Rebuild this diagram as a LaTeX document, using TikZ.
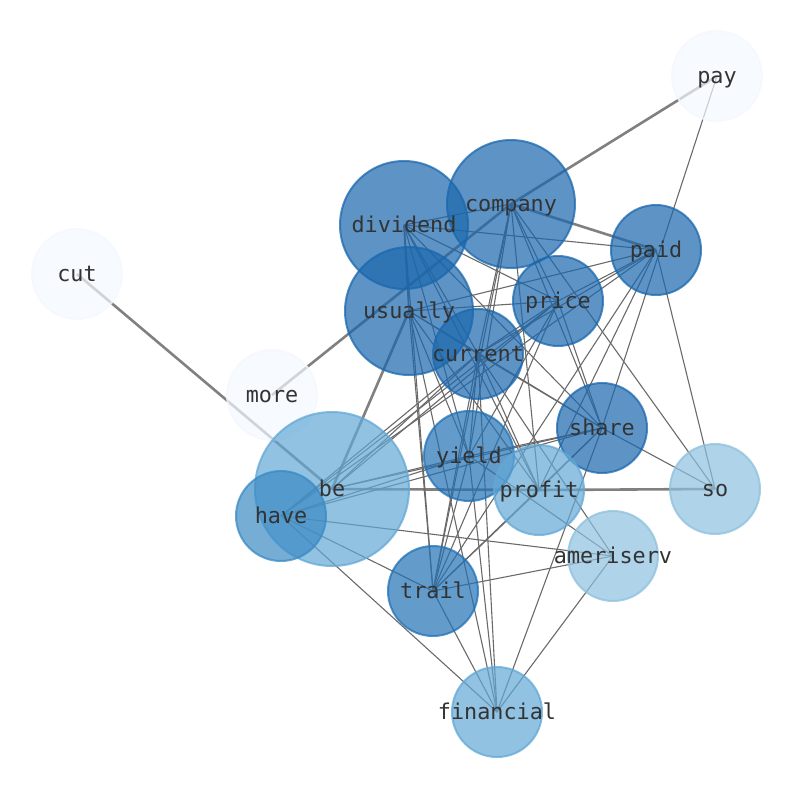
\documentclass[tikz,border=0pt]{standalone}
\usepackage{fontspec}
\newfontfamily\monofont{DejaVu Sans Mono}
\pgfdeclarelayer{background}
\pgfsetlayers{background,main}
\definecolor{cA}{HTML}{1A67AD}
\definecolor{cB}{HTML}{2171B5}
\definecolor{cH}{HTML}{3A8AC3}
\definecolor{cC}{HTML}{62A8D6}
\definecolor{cD}{HTML}{8DC0DE}
\definecolor{cE}{HTML}{F3F8FE}
\definecolor{edgegray}{HTML}{6A6A6A}
\tikzset{
  bub/.style args={#1/#2}{circle, inner sep=0pt, minimum size=#2pt, fill=#1, draw=#1,
      fill opacity=0.7, draw opacity=0.75, line width=2pt},
  lbl/.style={font=\monofont\fontsize{21.8}{24}\selectfont, text=black!80, inner sep=0pt, anchor=base},
  thin/.style={draw=edgegray, line width=1.1pt},
  thick/.style={draw=gray, line width=2.6pt},
  mid/.style={draw=gray!90!black, line width=1.8pt}
}
\begin{document}
\begin{tikzpicture}[x=1pt,y=-1pt]
\useasboundingbox (0,0) rectangle (794,790);
% circles
\node[bub=cE/90]  (pay)       at (717,76)  {};
\node[bub=cE/90]  (cut)       at (77,274)  {};
\node[bub=cE/90]  (more)      at (272,395) {};
\node[bub=cA/128] (dividend)  at (404,225) {};
\node[bub=cA/128] (company)   at (511,204) {};
\node[bub=cA/128] (usually)   at (409,311) {};
\node[bub=cA/90]  (paid)      at (656,250) {};
\node[bub=cA/90]  (price)     at (558,301) {};
\node[bub=cA/90]  (current)   at (478,354) {};
\node[bub=cA/90]  (share)     at (602,428) {};
\node[bub=cB/90]  (yield)     at (469,456) {};
\node[bub=cC/154] (be)        at (332,489) {};
\node[bub=cC/90]  (profit)    at (539,490) {};
\node[bub=cD/90]  (so)        at (715,489) {};
\node[bub=cH/90]  (have)      at (281,516) {};
\node[bub=cD/90]  (ameriserv) at (613,556) {};
\node[bub=cB/90]  (trail)     at (433,591) {};
\node[bub=cC/90]  (financial) at (497,712) {};
% labels
\foreach \n in {pay,cut,more,dividend,company,usually,paid,price,current,share,yield,be,profit,so,have,ameriserv,trail,financial}
  \node[lbl] (\n-l) at ([yshift=-7.5pt]\n.center) {\n};
% edges
\begin{pgfonlayer}{background}
\foreach \a/\b in {company/pay, more/company, company/paid, cut/be, be/usually, be/profit, profit/so}
  \draw[thick] (\a.center) -- (\b.center);
\draw[mid] (dividend.center) -- (usually.center);
\foreach \a/\b in {
  pay/share,
  dividend/company, dividend/paid, dividend/price, dividend/current, dividend/share,
  dividend/yield, dividend/trail, dividend/profit,
  usually/price, usually/paid, usually/current, usually/share, usually/yield,
  usually/trail, usually/financial, usually/profit,
  company/price, company/current, company/share, company/yield, company/profit,
  company/so, company/trail,
  price/current, price/paid, price/be, price/have, price/yield, price/trail, price/share,
  current/paid, current/share, current/yield, current/be, current/have, current/trail,
  current/financial, current/profit, current/ameriserv,
  yield/share, yield/be, yield/have, yield/trail, yield/financial, yield/ameriserv,
  share/profit, share/trail, share/be, share/have, share/so, share/financial,
  paid/profit, paid/trail, paid/so, paid/have,
  have/ameriserv, have/trail, have/financial,
  trail/ameriserv, trail/financial, trail/profit,
  financial/ameriserv}
  \draw[thin] (\a.center) -- (\b.center);
\end{pgfonlayer}
\end{tikzpicture}
\end{document}
